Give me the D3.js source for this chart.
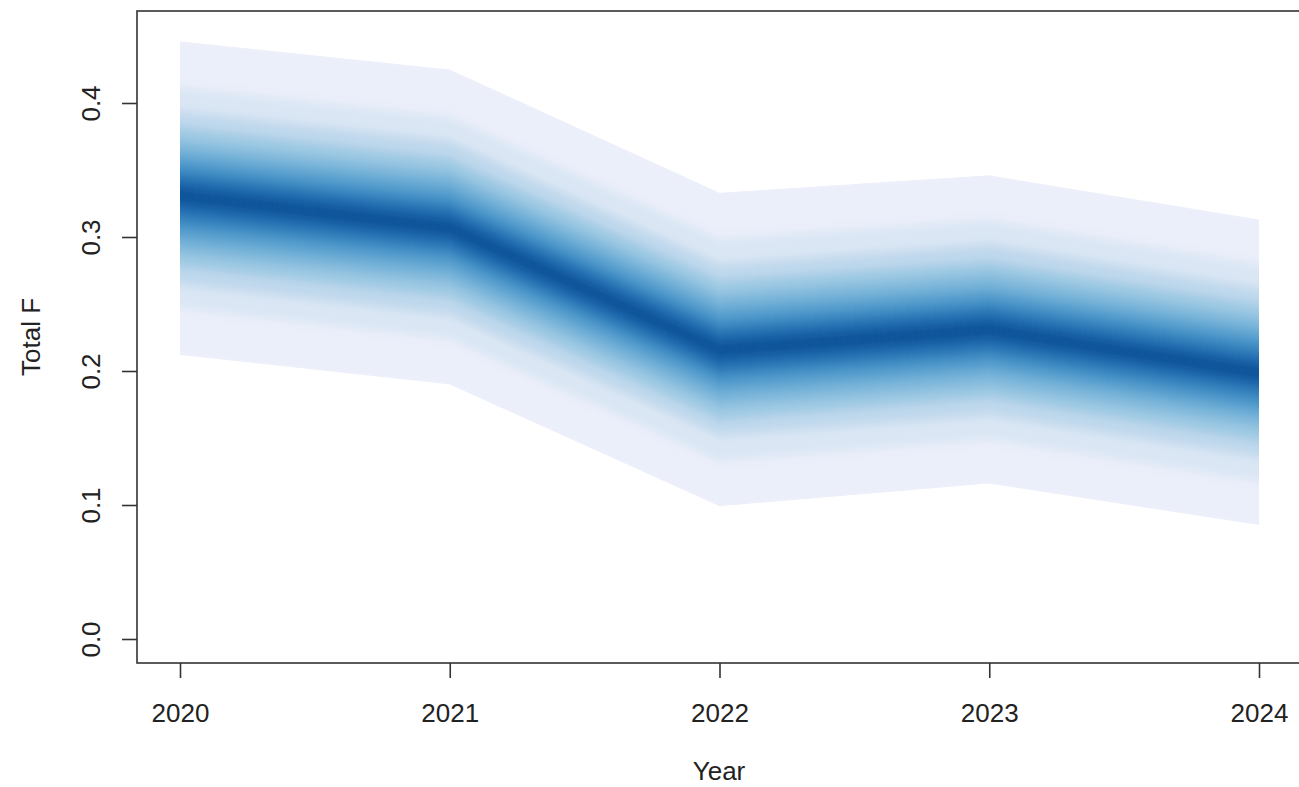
<!DOCTYPE html>
<html>
<head>
<meta charset="utf-8">
<script src="https://cdn.jsdelivr.net/npm/d3@7"></script>
<style>
  body { margin: 0; background: #fff; }
  svg { display: block; font-family: "Liberation Sans", Arial, sans-serif; }
</style>
</head>
<body>
<svg id="chart" width="1299" height="787"></svg>
<script>
// anos e probabilidades do fan chart
const years = [2020, 2021, 2022, 2023, 2024];
const probs = [0.01, 0.05, 0.10, 0.15, 0.20, 0.25, 0.30, 0.35, 0.40, 0.45, 0.50,
               0.55, 0.60, 0.65, 0.70, 0.75, 0.80, 0.85, 0.90, 0.95, 0.99];

// quantis estimados para cada ano (mesma ordem de probs)
const q2020 = [0.212, 0.247, 0.265, 0.278, 0.288, 0.296, 0.304, 0.311, 0.318, 0.325, 0.331,
               0.337, 0.344, 0.350, 0.357, 0.364, 0.372, 0.382, 0.394, 0.412, 0.446];
const q2021 = [0.190, 0.224, 0.242, 0.255, 0.265, 0.273, 0.281, 0.288, 0.294, 0.301, 0.307,
               0.313, 0.320, 0.326, 0.333, 0.341, 0.349, 0.359, 0.372, 0.390, 0.425];
const q2022 = [0.099, 0.133, 0.152, 0.164, 0.174, 0.182, 0.190, 0.197, 0.203, 0.210, 0.216,
               0.222, 0.229, 0.235, 0.242, 0.250, 0.258, 0.268, 0.280, 0.299, 0.333];
const q2023 = [0.116, 0.149, 0.167, 0.180, 0.189, 0.198, 0.205, 0.212, 0.218, 0.225, 0.231,
               0.237, 0.244, 0.250, 0.257, 0.264, 0.273, 0.282, 0.295, 0.313, 0.346];
const q2024 = [0.085, 0.118, 0.136, 0.148, 0.158, 0.166, 0.173, 0.180, 0.187, 0.193, 0.199,
               0.205, 0.211, 0.218, 0.225, 0.232, 0.240, 0.250, 0.262, 0.280, 0.313];

const yTicks = [0.0, 0.1, 0.2, 0.3, 0.4];

const quantiles = [q2020, q2021, q2022, q2023, q2024];
const rows = years.map((yr, i) => ({ year: yr, q: quantiles[i] }));

const svg = d3.select("#chart");

// caixa do gráfico (o lado direito fica fora da janela)
const box = { left: 137, top: 11, right: 1301, bottom: 663 };

const x = d3.scaleLinear().domain([2020, 2024]).range([180, 1259]);
const y = d3.scaleLinear().domain([0, 0.4]).range([639, 103]);

// cores das faixas: do centro (escuro) até as bordas (lavanda)
const color = d3.scaleLinear()
    .domain([0, 0.2, 0.4, 0.65, 0.85, 1])
    .range(["#08478f", "#2472b5", "#529dcd", "#96c5e1", "#d4e2f2", "#eff1fb"]);

const defs = svg.append("defs");
defs.append("filter")
    .attr("id", "suave")
    .attr("x", "-5%").attr("y", "-20%").attr("width", "110%").attr("height", "140%")
    .append("feGaussianBlur")
    .attr("stdDeviation", "0 5");

const outer = d3.area()
    .x(d => x(d.year))
    .y0(d => y(d.q[0]))
    .y1(d => y(d.q[probs.length - 1]));

defs.append("clipPath").attr("id", "clipFan")
    .append("path").attr("d", outer(rows));

const fanWrap = svg.append("g").attr("clip-path", "url(#clipFan)");

// base com a cor externa
fanWrap.append("path")
    .attr("d", outer(rows))
    .attr("fill", color(1));

const fan = fanWrap.append("g").attr("filter", "url(#suave)");

for (let k = 0; k < probs.length - 1; k++) {
    const mid = (probs[k] + probs[k + 1]) / 2;
    const t = Math.min(Math.abs(mid - 0.5) / 0.48, 1);
    const band = d3.area()
        .x(d => x(d.year))
        .y0(d => y(d.q[k]))
        .y1(d => y(d.q[k + 1]));
    fan.append("path")
        .attr("d", band(rows))
        .attr("fill", color(t))
        .attr("stroke", color(t))
        .attr("stroke-width", 0.6);
}

// caixa
svg.append("rect")
    .attr("x", box.left).attr("y", box.top)
    .attr("width", box.right - box.left)
    .attr("height", box.bottom - box.top)
    .attr("fill", "none")
    .attr("stroke", "#333")
    .attr("stroke-width", 1.6);

// eixo y
const yAxis = svg.append("g")
    .attr("transform", `translate(${box.left},0)`)
    .call(d3.axisLeft(y).tickValues(yTicks).tickSize(15).tickFormat(d3.format(".1f")));
yAxis.select(".domain").remove();
yAxis.selectAll(".tick line").attr("stroke", "#333").attr("stroke-width", 1.6);
yAxis.selectAll(".tick text")
    .attr("x", null).attr("dy", null)
    .attr("text-anchor", "middle")
    .attr("transform", "translate(-37,0) rotate(-90)")
    .attr("font-size", 26)
    .attr("font-family", "'Liberation Sans', Arial, sans-serif")
    .attr("fill", "#222");

// eixo x
const xAxis = svg.append("g")
    .attr("transform", `translate(0,${box.bottom})`)
    .call(d3.axisBottom(x).tickValues(years).tickSize(15).tickFormat(d3.format("d")));
xAxis.select(".domain").remove();
xAxis.selectAll(".tick line").attr("stroke", "#333").attr("stroke-width", 1.6);
xAxis.selectAll(".tick text")
    .attr("y", 59).attr("dy", null)
    .attr("font-size", 26)
    .attr("font-family", "'Liberation Sans', Arial, sans-serif")
    .attr("fill", "#222");

// títulos dos eixos
svg.append("text")
    .attr("x", (box.left + box.right) / 2)
    .attr("y", 780)
    .attr("text-anchor", "middle")
    .attr("font-size", 26)
    .attr("fill", "#222")
    .text("Year");

svg.append("text")
    .attr("transform", `translate(40,${(box.top + box.bottom) / 2}) rotate(-90)`)
    .attr("text-anchor", "middle")
    .attr("font-size", 26)
    .attr("fill", "#222")
    .text("Total F");
</script>
</body>
</html>
